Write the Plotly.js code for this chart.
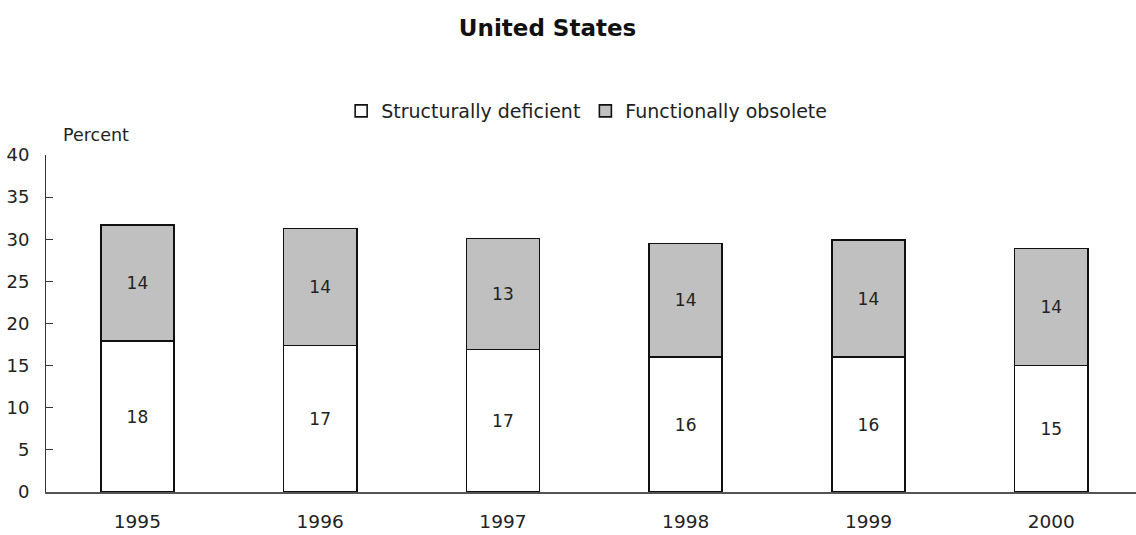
<!DOCTYPE html>
<html>
<head>
<meta charset="utf-8">
<script src="https://cdn.plot.ly/plotly-3.0.1.min.js"></script>
<style>html,body{margin:0;padding:0;background:#fff;}#chart{width:1136px;height:535px;}</style>
</head>
<body>
<div id="chart"></div>
<script>
const years = ["1995", "1996", "1997", "1998", "1999", "2000"];
const structurallyDeficient = [17.9, 17.4, 16.9, 16.0, 16.0, 15.0];
const functionallyObsolete = [13.8, 13.9, 13.2, 13.5, 13.9, 13.9];
const sdLabels = ["18", "17", "17", "16", "16", "15"];
const foLabels = ["14", "14", "13", "14", "14", "14"];
const yTicks = [0, 5, 10, 15, 20, 25, 30, 35, 40];

const FONT = "DejaVu Sans, Verdana, sans-serif";

const traces = [
  {
    type: "bar", name: "Structurally deficient", x: years, y: structurallyDeficient,
    text: sdLabels, textposition: "inside", insidetextanchor: "middle",
    textfont: {family: FONT, size: 17, color: "#222"},
    marker: {color: "#ffffff", line: {color: "#111", width: 1.6}},
    hoverinfo: "skip"
  },
  {
    type: "bar", name: "Functionally obsolete", x: years, y: functionallyObsolete,
    text: foLabels, textposition: "inside", insidetextanchor: "middle",
    textfont: {family: FONT, size: 17, color: "#222"},
    marker: {color: "#c0c0c0", line: {color: "#111", width: 1.6}},
    hoverinfo: "skip"
  }
];

const layout = {
  width: 1136, height: 535,
  paper_bgcolor: "#fff", plot_bgcolor: "#fff",
  font: {family: FONT, size: 17, color: "#222"},
  margin: {l: 46, r: 0, t: 155, b: 43},
  barmode: "stack", bargap: 0.6,
  title: {text: "<b>United States</b>", x: 0.482, xref: "container", xanchor: "center",
          y: 1 - 28/535, yref: "container", yanchor: "middle", font: {family: FONT, size: 23, color: "#111"}},
  showlegend: true,
  legend: {orientation: "h", x: 0.496, xref: "paper", xanchor: "center", y: 1 - 111/535, yref: "container",
           yanchor: "middle", font: {family: FONT, size: 19, color: "#222"}, traceorder: "normal",
           itemwidth: 30, bgcolor: "rgba(0,0,0,0)"},
  xaxis: {type: "category", range: [-0.5, 5.464], showline: true, linecolor: "#555", linewidth: 1.5,
          ticks: "", showgrid: false, zeroline: false, tickfont: {family: FONT, size: 18.5, color: "#222"},
          ticklabelstandoff: 12, fixedrange: true},
  yaxis: {range: [0, 40], tickvals: yTicks, showline: true, linecolor: "#333", linewidth: 1,
          ticks: "inside", ticklen: 7, tickcolor: "#333", showgrid: false, zeroline: false,
          tickfont: {family: FONT, size: 18, color: "#222"}, ticklabelstandoff: 12, fixedrange: true},
  annotations: [
    {text: "Percent", xref: "paper", yref: "paper", x: (61-46)/1090, y: 1, xanchor: "left", yanchor: "bottom",
     yshift: 8, showarrow: false, font: {family: FONT, size: 17.5, color: "#222"}}
  ]
};

Plotly.newPlot("chart", traces, layout, {displayModeBar: false, staticPlot: true});
</script>
</body>
</html>
